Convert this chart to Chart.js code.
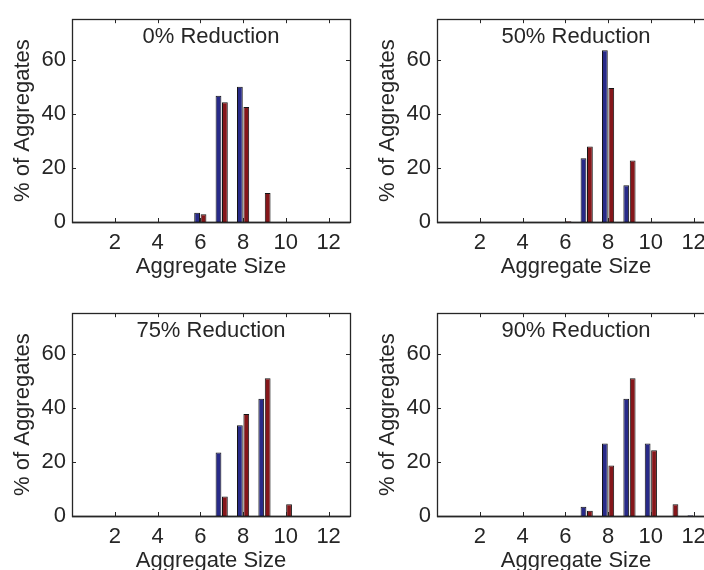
<!doctype html>
<html lang="en">
<head>
    <meta charset="utf-8">
    <title>Aggregate size distributions</title>
    <style>
        html, body { margin: 0; padding: 0; overflow: hidden; background: #fff; width: 704px; height: 570px; }
        .panel { position: absolute; width: 352px; height: 300px; }
    </style>
</head>
<body>
<div class="panel" style="left:0px;top:0px"><canvas id="c0" width="352" height="300"></canvas></div>
<div class="panel" style="left:365px;top:0px"><canvas id="c1" width="352" height="300"></canvas></div>
<div class="panel" style="left:0px;top:294px"><canvas id="c2" width="352" height="300"></canvas></div>
<div class="panel" style="left:365px;top:294px"><canvas id="c3" width="352" height="300"></canvas></div>
<script src="https://cdn.jsdelivr.net/npm/chart.js@4.4.0/dist/chart.umd.min.js"></script>

<script>
// aggregate sizes (x categories) and tick labels
const sizes = [1, 2, 3, 4, 5, 6, 7, 8, 9, 10, 11, 12];
const xTicks = [2, 4, 6, 8, 10, 12];
const yTicks = [0, 20, 40, 60];

const titles = ['0% Reduction', '50% Reduction', '75% Reduction', '90% Reduction'];

// % of aggregates, blue and red series for each panel
const blue0  = [0, 0, 0, 0, 0, 3.4, 46.7, 50.0, 0, 0, 0, 0];
const red0   = [0, 0, 0, 0, 0, 2.9, 44.3, 42.5, 10.7, 0, 0, 0];
const blue50 = [0, 0, 0, 0, 0, 0, 23.6, 63.5, 13.6, 0, 0, 0];
const red50  = [0, 0, 0, 0, 0, 0.3, 27.9, 49.6, 22.7, 0, 0, 0];
const blue75 = [0, 0, 0, 0, 0, 0, 23.5, 33.6, 43.4, 0, 0, 0];
const red75  = [0, 0, 0, 0, 0, 0, 7.2, 37.7, 50.9, 4.3, 0, 0];
const blue90 = [0, 0, 0, 0, 0, 0, 3.4, 26.8, 43.4, 26.8, 0, 0.3];
const red90  = [0, 0, 0, 0, 0, 0, 1.9, 18.7, 50.9, 24.3, 4.3, 0];

const blues = [blue0, blue50, blue75, blue90];
const reds = [red0, red50, red75, red90];

const FONT = "'Liberation Sans', Arial, Helvetica, sans-serif";
const INK = '#262626';

// matlab-style box with inward ticks, baseline and title inside the axes
const boxPlugin = {
    id: 'box',
    afterDatasetsDraw(chart, args, opts) {
        const ctx = chart.ctx;
        const a = chart.chartArea;
        const xs = chart.scales.x, ys = chart.scales.y;
        const tl = 4;
        ctx.save();
        // baseline
        ctx.beginPath();
        const y0 = Math.round(ys.getPixelForValue(0)) + 0.5;
        ctx.moveTo(a.left, y0);
        ctx.lineTo(a.right, y0);
        ctx.lineWidth = 1.5;
        ctx.strokeStyle = '#000';
        ctx.stroke();
        ctx.lineWidth = 1;
        ctx.strokeStyle = INK;
        ctx.beginPath();
        for (const v of xTicks) {
            const px = Math.round(xs.getPixelForValue(v)) + 0.5;
            ctx.moveTo(px, a.bottom); ctx.lineTo(px, a.bottom - tl);
            ctx.moveTo(px, a.top); ctx.lineTo(px, a.top + tl);
        }
        for (const v of yTicks) {
            const py = Math.round(ys.getPixelForValue(v)) + 0.5;
            ctx.moveTo(a.left, py); ctx.lineTo(a.left + tl, py);
            ctx.moveTo(a.right, py); ctx.lineTo(a.right - tl, py);
        }
        ctx.stroke();
        ctx.lineWidth = 1.3;
        ctx.strokeRect(Math.round(a.left) + 0.5, Math.round(a.top) + 0.5,
                       Math.round(a.right - a.left), Math.round(a.bottom - a.top));
        // panel title
        ctx.fillStyle = INK;
        ctx.font = '22px ' + FONT;
        ctx.textAlign = 'center';
        ctx.textBaseline = 'middle';
        ctx.fillText(opts.text, (a.left + a.right) / 2, a.top + 18);
        ctx.restore();
    }
};

function makePanel(id, i) {
    new Chart(document.getElementById(id), {
        type: 'bar',
        data: {
            labels: sizes,
            datasets: [{
                data: blues[i],
                backgroundColor: '#282a88',
                borderColor: '#141414',
                borderWidth: 1,
                barPercentage: 0.9,
                categoryPercentage: 0.6
            }, {
                data: reds[i],
                backgroundColor: '#85161a',
                borderColor: '#141414',
                borderWidth: 1,
                barPercentage: 0.9,
                categoryPercentage: 0.6
            }]
        },
        plugins: [boxPlugin],
        options: {
            responsive: false,
            animation: false,
            layout: { padding: { top: 14, right: 2, left: 0, bottom: 0 } },
            plugins: {
                legend: { display: false },
                tooltip: { enabled: false },
                box: { text: titles[i] }
            },
            scales: {
                x: {
                    type: 'linear',
                    min: 0,
                    max: 13,
                    offset: false,
                    grid: { display: false, drawTicks: false },
                    border: { display: false },
                    afterBuildTicks: (s) => { s.ticks = xTicks.map(v => ({ value: v })); },
                    afterFit: (s) => { s.height = 78; },
                    ticks: { color: INK, font: { family: FONT, size: 22 }, padding: 8, maxRotation: 0, autoSkip: false },
                    title: {
                        display: true,
                        text: 'Aggregate Size',
                        color: INK,
                        font: { family: FONT, size: 22 },
                        padding: { top: 0, bottom: 20 }
                    }
                },
                y: {
                    min: 0,
                    max: 75,
                    grid: { display: false, drawTicks: false },
                    border: { display: false },
                    afterBuildTicks: (s) => { s.ticks = yTicks.map(v => ({ value: v })); },
                    afterFit: (s) => { s.width = 72; },
                    ticks: { color: INK, font: { family: FONT, size: 22 }, padding: 6 },
                    title: {
                        display: true,
                        text: '% of Aggregates',
                        color: INK,
                        font: { family: FONT, size: 22 },
                        padding: { top: 10, bottom: 0 }
                    }
                }
            }
        }
    });
}

makePanel('c0', 0);
makePanel('c1', 1);
makePanel('c2', 2);
makePanel('c3', 3);
</script>
</body>
</html>
